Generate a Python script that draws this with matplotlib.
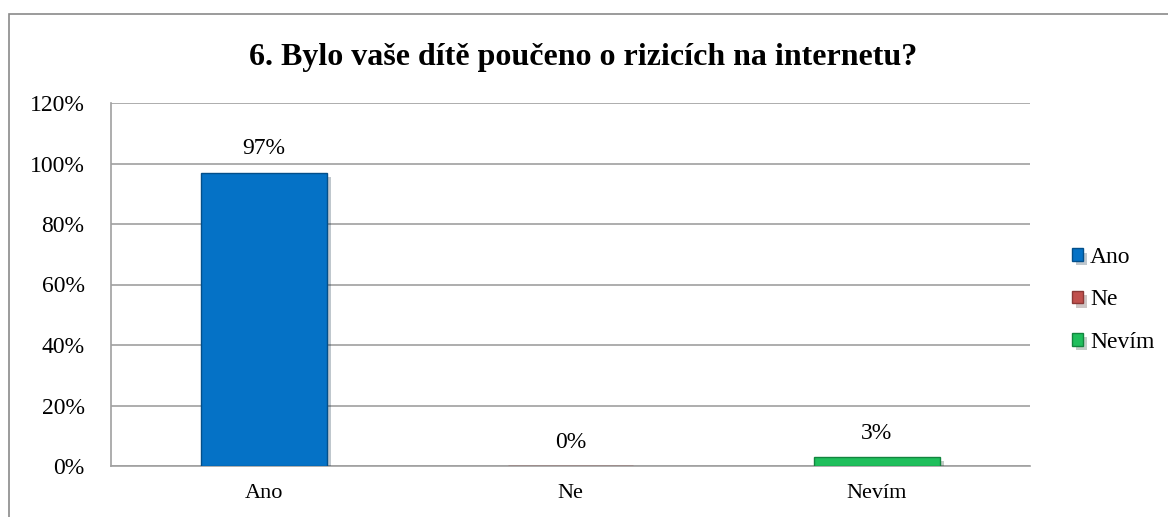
import matplotlib.pyplot as plt
from matplotlib.patches import Rectangle
import matplotlib.patheffects as pe

categories = ["Ano", "Ne", "Nevím"]
values = [0.97, 0.0, 0.03]
labels = ["97%", "0%", "3%"]
yticks = [0, 0.2, 0.4, 0.6, 0.8, 1.0, 1.2]
ytick_labels = ["0%", "20%", "40%", "60%", "80%", "100%", "120%"]
title = "6. Bylo vaše dítě poučeno o rizicích na internetu?"

colors = ["#0572c6", "#c0504d", "#1fbf5c"]
edges = ["#034f8a", "#8c3836", "#12853e"]
GRID = "#a0a0a0"
FS = 17

plt.rcParams['font.family'] = ['Liberation Serif', 'DejaVu Serif']

W, H = 1168, 517
fig = plt.figure(figsize=(W / 100, H / 100), dpi=100, facecolor="white")

# outer chart frame (cut off at right and bottom)
fig.add_artist(Rectangle((9 / W, -0.05), 1.1, (H - 14) / H + 0.05,
                         transform=fig.transFigure, fill=False,
                         edgecolor="#8a8a8a", lw=1.2))

ax = fig.add_axes([111 / W, (H - 466) / H, 919 / W, 363 / H])
x = range(len(categories))
bars = ax.bar(x, values, width=0.41, color=colors, edgecolor=edges, lw=1.0,
              zorder=3)
for b in bars:
    b.set_path_effects([pe.SimplePatchShadow(offset=(3, -3), alpha=0.25),
                        pe.Normal()])

for i, (v, t) in enumerate(zip(values, labels)):
    ax.annotate(t, (i, v), xytext=(0, 17), textcoords="offset points",
                ha="center", va="center", fontsize=FS)

ax.set_xlim(-0.5, 2.5)
ax.set_ylim(0, 1.2)
ax.set_yticks(yticks)
ax.set_yticklabels(ytick_labels, fontsize=FS)
ax.set_xticks(list(x))
ax.set_xticklabels(categories, fontsize=FS - 1)
ax.tick_params(axis="y", length=0, pad=19)
ax.tick_params(axis="x", length=0, pad=13)
ax.grid(axis="y", color=GRID, lw=1.2, zorder=0)
ax.set_axisbelow(True)
for s in ["top", "right"]:
    ax.spines[s].set_visible(False)
for s in ["left", "bottom"]:
    ax.spines[s].set_color(GRID)
    ax.spines[s].set_linewidth(1.2)

fig.text(583 / W, 1 - 57 / H, title, ha="center", va="center",
         fontsize=23, fontweight="bold")

fig.legend(bars, categories, loc="center left",
           bbox_to_anchor=(1051 / W, 1 - 300 / H), frameon=False,
           fontsize=FS, handlelength=0.45, handleheight=0.45,
           handletextpad=0.3, labelspacing=0.9)

fig.savefig("out.png", dpi=100, facecolor="white")
